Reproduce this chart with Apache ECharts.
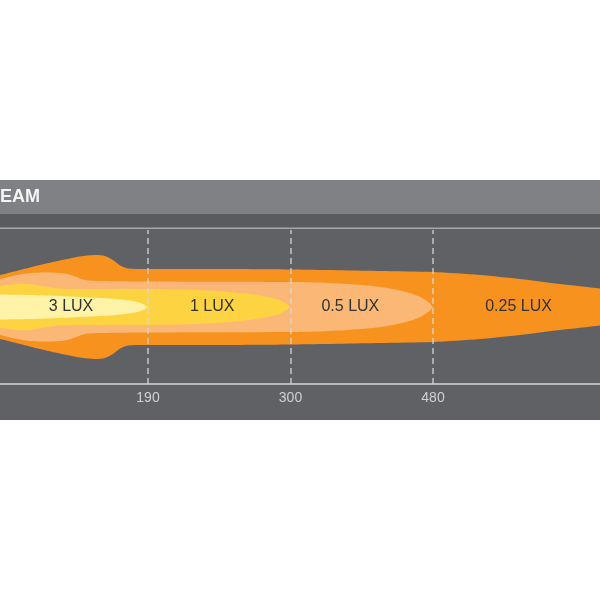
<!DOCTYPE html>
<html>
<head>
<meta charset="utf-8">
<script src="https://cdn.jsdelivr.net/npm/echarts@6/dist/echarts.min.js"></script>
<style>html,body{margin:0;padding:0;background:#fff}#c{width:600px;height:600px}</style>
</head>
<body>
<div id="c"></div>
<script>
// Distance tick labels (metres) at zone boundaries 2,3,4
const xLabels = ['', '', '190', '300', '480', '', ''];
const headerText = 'EAM';
const zoneNames = ['0.25 LUX', '0.5 LUX', '1 LUX', '3 LUX'];
const labelAt = [4.6, 3.42, 2.45, 1.46];
// Half-height outlines [zone position, half width] for each isolux zone
const lux025 = [[0.82,29],[0.961,32],[1.102,37],[1.242,42],[1.382,46.5],[1.523,50.5],[1.628,52],[1.698,51],[1.754,47],[1.804,41.5],[1.86,38.5],[2.014,38],[2.505,38],[3.02,37.5],[3.63,36],[4.0,35],[4.33,32],[4.61,28],[4.89,23],[5.172,18.5],[5.38,14],[5.593,9],[5.77,4],[5.88,0]];
const lux05 = [[0.82,25],[0.961,28],[1.067,31.5],[1.172,34],[1.312,34.5],[1.417,33.5],[1.488,30.5],[1.558,27],[1.663,26],[2.014,25.5],[3.0,25],[3.19,24.5],[3.40,23],[3.61,20.5],[3.75,17],[3.86,13],[3.93,8.5],[3.975,4],[4.0,0]];
const lux1 = [[0.82,20],[0.961,21],[1.067,23],[1.172,23],[1.277,20.5],[1.382,18.5],[1.663,18],[2.014,18],[2.295,17.3],[2.505,15.8],[2.716,12.9],[2.856,9.5],[2.94,6],[3.0,0]];
const lux3 = [[0.82,13],[0.961,12.5],[1.172,12],[1.382,11],[1.593,9.5],[1.733,8.5],[1.839,7],[1.909,5.5],[1.965,3],[2.0,0]];
const shapes = [lux025, lux05, lux1, lux3];
const colors = ['#f7921e', '#fbb775', '#fed342', '#fff3a8'];

const chart = echarts.init(document.getElementById('c'), null, {renderer: 'canvas'});
const tickIdx = xLabels.map((t, i) => t ? i : null).filter(v => v !== null);

chart.setOption({
  animation: false,
  backgroundColor: '#ffffff',
  graphic: [
    {type: 'rect', z: -5, shape: {x: 0, y: 180, width: 600, height: 240}, style: {fill: '#606165'}},
    {type: 'rect', z: -4, shape: {x: 0, y: 180, width: 600, height: 34}, style: {fill: '#808184'}},
    {type: 'rect', z: -4, shape: {x: 0, y: 214, width: 600, height: 13}, style: {fill: '#5a5b5f'}},
    {type: 'rect', z: -4, shape: {x: 0, y: 227.5, width: 600, height: 1.5}, style: {fill: '#a5a6a8'}},
    {type: 'text', z: 10, x: 0, y: 197, style: {text: headerText, fill: '#f5f5f5', font: 'bold 18px "Liberation Sans", Arial, sans-serif', verticalAlign: 'middle', align: 'left'}}
  ],
  grid: {left: 0, right: 0, top: 230, bottom: 216, containLabel: false},
  xAxis: {
    type: 'value', min: 0.9614, max: 5.1719,
    axisLine: {show: true, onZero: false, lineStyle: {color: '#b8b9bb', width: 2}},
    axisTick: {show: false},
    splitLine: {show: false},
    axisLabel: {color: '#cfd0d2', fontSize: 14, margin: 7, fontFamily: '"Liberation Sans", Arial, sans-serif',
      customValues: tickIdx,
      formatter: v => xLabels[Math.round(v)] || ''}
  },
  yAxis: {type: 'value', min: -77, max: 77, show: false},
  series: [
    {
      type: 'custom', z: 2,
      data: zoneNames.map((n, i) => ({name: n, value: [labelAt[i], 0]})),
      renderItem: function (params, api) {
        const pts = shapes[params.dataIndex];
        const top = pts.map(p => api.coord([p[0], p[1]]));
        const bot = pts.slice().reverse().map(p => api.coord([p[0], -p[1]]));
        return {type: 'polygon', shape: {points: top.concat(bot), smooth: 0.25}, style: {fill: colors[params.dataIndex]}};
      }
    },
    {
      type: 'custom', z: 4,
      data: zoneNames.map((n, i) => ({name: n, value: [labelAt[i], 0]})),
      renderItem: function (params, api) {
        const c = api.coord([api.value(0), api.value(1)]);
        return {type: 'text', x: c[0], y: c[1], style: {text: zoneNames[params.dataIndex], fill: '#333333', font: '16px "Liberation Sans", Arial, sans-serif', align: 'center', verticalAlign: 'middle'}};
      }
    },
    {
      type: 'line', z: 5, data: [],
      markLine: {
        silent: true, symbol: ['none', 'none'], label: {show: false},
        lineStyle: {type: [6, 4], color: 'rgba(215,215,218,0.85)', width: 1.5},
        data: tickIdx.map(i => ({xAxis: i}))
      }
    }
  ]
});
</script>
</body>
</html>
